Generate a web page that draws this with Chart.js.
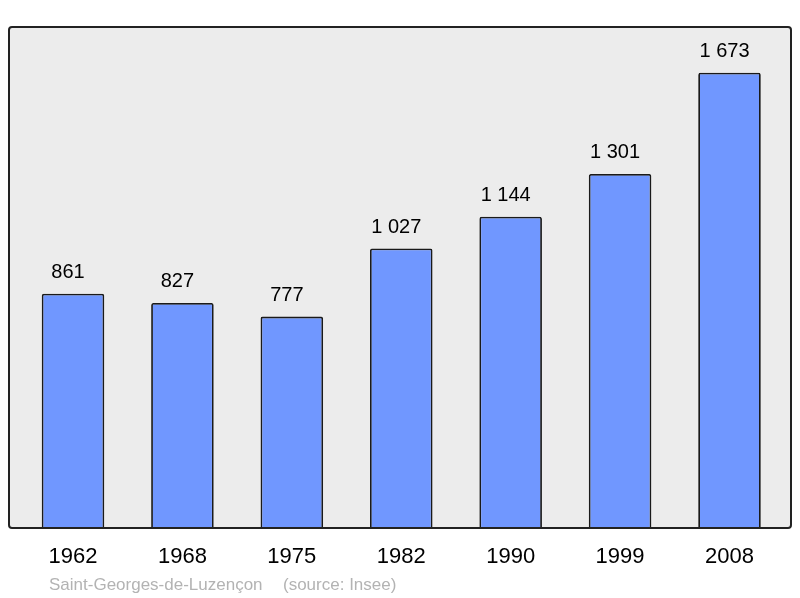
<!DOCTYPE html>
<html>
<head>
<meta charset="utf-8">
<script src="https://cdn.jsdelivr.net/npm/chart.js@4/dist/chart.umd.min.js"></script>
<style>
  html, body { margin: 0; padding: 0; background: #fff; }
  canvas { display: block; }
</style>
</head>
<body>
<canvas id="grafico" width="800" height="598"></canvas>
<script>
// dados
var anos = ['1962', '1968', '1975', '1982', '1990', '1999', '2008']
var populacao = [861, 827, 777, 1027, 1144, 1301, 1673]
var nomeComuna = 'Saint-Georges-de-Luzençon'
var fonte = '(source: Insee)'

var fonteTexto = '"Liberation Sans", Arial, sans-serif'

function formatar(v) {
    // separador de milhar com espaço, como no original
    return String(v).replace(/\B(?=(\d{3})+(?!\d))/g, ' ')
}

// fundo cinza e moldura da área do gráfico
var moldura = {
    id: 'moldura',
    caixa: function(chart) {
        var a = chart.chartArea
        return { x: a.left - 9.3, y: a.top, w: (a.right + 6.8) - (a.left - 9.3), h: a.bottom - a.top }
    },
    beforeDatasetsDraw: function(chart) {
        var ctx = chart.ctx
        var c = this.caixa(chart)
        ctx.save()
        ctx.beginPath()
        ctx.roundRect(c.x, c.y, c.w, c.h, 3)
        ctx.fillStyle = '#ececec'
        ctx.fill()
        ctx.restore()
    },
    afterDatasetsDraw: function(chart) {
        var ctx = chart.ctx
        var c = this.caixa(chart)
        ctx.save()
        ctx.beginPath()
        ctx.roundRect(c.x, c.y, c.w, c.h, 3)
        ctx.lineWidth = 2
        ctx.strokeStyle = '#222'
        ctx.stroke()

        // valores acima das barras (no original ficam um pouco à esquerda)
        var meta = chart.getDatasetMeta(0)
        ctx.fillStyle = '#000'
        ctx.font = '20px ' + fonteTexto
        ctx.textAlign = 'center'
        ctx.textBaseline = 'alphabetic'
        meta.data.forEach(function(barra, i) {
            ctx.fillText(formatar(populacao[i]), barra.x - 5, barra.y - 15.5)
        })
        ctx.restore()
    },
    afterDraw: function(chart) {
        var ctx = chart.ctx
        ctx.save()
        ctx.fillStyle = '#b3b3b3'
        ctx.font = '17px ' + fonteTexto
        ctx.textAlign = 'left'
        ctx.textBaseline = 'alphabetic'
        ctx.fillText(nomeComuna, 49, 590)
        ctx.fillText(fonte, 283, 590)
        ctx.restore()
    }
}

var ctx = document.getElementById('grafico').getContext('2d')
var grafico = new Chart(ctx, {
    type: 'bar',
    data: {
        labels: anos,
        datasets: [{
            data: populacao,
            backgroundColor: '#7097ff',
            borderColor: '#1a1a1a',
            borderWidth: 1.8,
            borderRadius: 2,
            borderSkipped: 'start',
            barPercentage: 0.572,
            categoryPercentage: 1
        }]
    },
    options: {
        responsive: false,
        animation: false,
        devicePixelRatio: 1,
        layout: {
            padding: { left: 18.3, right: 15.8, top: 27, bottom: 11.5 }
        },
        plugins: {
            legend: { display: false },
            tooltip: { enabled: false }
        },
        scales: {
            x: {
                grid: { display: false, drawTicks: false },
                border: { display: false },
                ticks: {
                    color: '#000',
                    padding: 16,
                    maxRotation: 0,
                    font: { family: fonteTexto, size: 22 }
                }
            },
            y: {
                display: false,
                min: 0,
                max: 1841
            }
        }
    },
    plugins: [moldura]
})
</script>
</body>
</html>
